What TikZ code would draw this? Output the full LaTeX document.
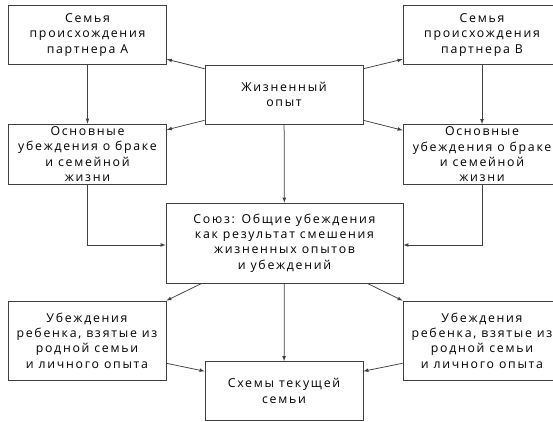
\documentclass[tikz,border=0pt]{standalone}
\usepackage{fontspec}
\setmainfont[LetterSpace=14]{Open Sans}
\usetikzlibrary{positioning}

\begin{document}
\begin{tikzpicture}[x=1pt,y=-1pt,
  box/.style={draw=black!75,line width=0.75pt,fill=white,align=center,
    minimum width=158pt,minimum height=59pt,inner sep=1pt,
    font=\fontsize{12.3}{15.3}\selectfont},
  >=latex]
  \useasboundingbox (0,0) rectangle (553,421);
  % top row
  \node[box] (famA) at (87.5,35) {Семья\\происхождения\\партнера А};
  \node[box] (famB) at (482,35) {Семья\\происхождения\\партнера В};
  \node[box] (life) at (284,94.5) {Жизненный\\опыт};
  % beliefs
  \node[box,minimum height=60pt] (belA) at (87.5,154) {Основные\\убеждения о браке\\и семейной\\жизни};
  \node[box,minimum height=60pt] (belB) at (482,154.5) {Основные\\убеждения о браке\\и семейной\\жизни};
  \node[box,minimum width=237pt,minimum height=80pt] (union) at (284.5,243) {Союз: Общие убеждения\\как результат смешения\\жизненных опытов\\и убеждений};
  % children
  \node[box,minimum height=79pt] (kidA) at (87,340.5) {Убеждения\\ребенка, взятые из\\родной семьи\\и личного опыта};
  \node[box,minimum height=79pt] (kidB) at (482,340.5) {Убеждения\\ребенка, взятые из\\родной семьи\\и личного опыта};
  \node[box] (cur) at (284,391) {Схемы текущей\\семьи};
  % arrows
  \draw[->,black!75,line width=0.75pt] (life.162) -- (famA.-17);
  \draw[->,black!75,line width=0.75pt] (life.198) -- (belA.17);
  \draw[->,black!75,line width=0.75pt] (life.18) -- (famB.197);
  \draw[->,black!75,line width=0.75pt] (life.-18) -- (belB.163);
  \draw[->,black!75,line width=0.75pt] (famA) -- (belA);
  \draw[->,black!75,line width=0.75pt] (famB) -- (belB);
  \draw[->,black!75,line width=0.75pt] (life) -- (union);
  \draw[->,black!75,line width=0.75pt] (belA.south) |- ([yshift=-2]union.west);
  \draw[->,black!75,line width=0.75pt] (belB.south) |- ([yshift=-2]union.east);
  \draw[->,black!75,line width=0.75pt] (union.206) -- (kidA.north east);
  \draw[->,black!75,line width=0.75pt] (union.-26) -- (kidB.north west);
  \draw[->,black!75,line width=0.75pt] (union) -- (cur);
  \draw[->,black!75,line width=0.75pt] (kidA.-16) -- (cur.166);
  \draw[->,black!75,line width=0.75pt] (kidB.196) -- (cur.14);
\end{tikzpicture}
\end{document}
